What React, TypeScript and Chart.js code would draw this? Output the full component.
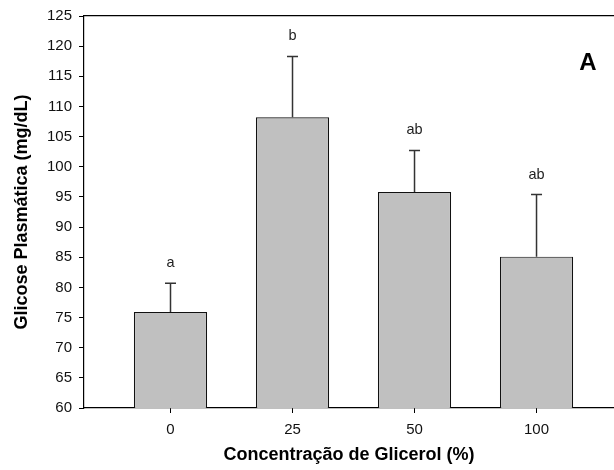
import React, { useEffect, useRef } from "react";
import { Chart, registerables } from "chart.js";

Chart.register(...registerables);

const categories = ["0", "25", "50", "100"];
const means = [75.9, 108.2, 95.8, 85.1];
const upperErrors = [80.7, 118.3, 102.7, 95.4];
const letters = ["a", "b", "ab", "ab"];
const yTicks = [60, 65, 70, 75, 80, 85, 90, 95, 100, 105, 110, 115, 120, 125];
const panelLabel = "A";
const yTitle = "Glicose Plasmática (mg/dL)";
const xTitle = "Concentração de Glicerol (%)";

const FONT = "'Liberation Sans', Arial, sans-serif";

const errorPlugin = {
  id: "errorBarsAndLabels",
  afterDatasetsDraw(chart: any) {
    const ctx = chart.ctx;
    const meta = chart.getDatasetMeta(0);
    const yScale = chart.scales.y;
    ctx.save();
    meta.data.forEach((el: any, i: number) => {
      const x = el.x;
      const yTop = el.y;
      const yCap = yScale.getPixelForValue(upperErrors[i]);
      ctx.strokeStyle = "#333";
      ctx.lineWidth = 1.5;
      ctx.beginPath();
      ctx.moveTo(x, yTop);
      ctx.lineTo(x, yCap);
      ctx.moveTo(x - 5.5, yCap);
      ctx.lineTo(x + 5.5, yCap);
      ctx.stroke();
      ctx.fillStyle = "#222";
      ctx.font = `14.5px ${FONT}`;
      ctx.textAlign = "center";
      ctx.textBaseline = "middle";
      ctx.fillText(letters[i], x, yCap - 20);
    });
    const area = chart.chartArea;
    ctx.fillStyle = "#000";
    ctx.font = `bold 24px ${FONT}`;
    ctx.textAlign = "center";
    ctx.textBaseline = "middle";
    ctx.fillText(panelLabel, area.right - 26, area.top + 47);
    ctx.restore();
  },
};

export default function App() {
  const canvasRef = useRef<HTMLCanvasElement | null>(null);

  useEffect(() => {
    if (!canvasRef.current) return;
    const xMin = -0.709;
    const xMax = 3.635;
    const chart = new Chart(canvasRef.current, {
      type: "bar",
      data: {
        datasets: [
          {
            data: means.map((v, i) => ({ x: i, y: v })),
            backgroundColor: "#C0C0C0",
            borderColor: "#111",
            borderWidth: 1.2,
            barPercentage: 0.6,
            categoryPercentage: 1,
          },
        ],
      },
      options: {
        responsive: false,
        animation: false,
        layout: { padding: { top: 15, right: 0, left: 0, bottom: 0 } },
        plugins: { legend: { display: false }, tooltip: { enabled: false } },
        scales: {
          x: {
            type: "linear",
            position: "bottom",
            min: xMin,
            max: xMax,
            offset: false,
            afterBuildTicks: (scale: any) => {
              scale.ticks = categories.map((_, i) => ({ value: i }));
            },
            afterFit: (scale: any) => {
              scale.height = 62;
            },
            ticks: {
              callback: (v: any) => categories[v] ?? "",
              color: "#111",
              font: { family: FONT, size: 15 },
              padding: 8,
              maxRotation: 0,
              autoSkip: false,
            },
            grid: {
              offset: false,
              drawOnChartArea: false,
              drawTicks: true,
              tickLength: 5,
              color: "#000",
            },
            border: { color: "#000", width: 1.2 },
            title: {
              display: true,
              text: xTitle,
              color: "#000",
              font: { family: FONT, size: 18, weight: "bold" },
              padding: { top: 0, bottom: 4 },
            },
          },
          x2: {
            type: "linear",
            position: "top",
            min: xMin,
            max: xMax,
            offset: false,
            afterFit: (scale: any) => {
              scale.height = 0;
            },
            ticks: { display: false },
            grid: { offset: false, drawOnChartArea: false, drawTicks: false },
            border: { color: "#000", width: 1.2 },
          },
          y: {
            min: 60,
            max: 125,
            afterBuildTicks: (scale: any) => {
              scale.ticks = yTicks.map((v) => ({ value: v }));
            },
            afterFit: (scale: any) => {
              scale.width = 84;
            },
            ticks: {
              color: "#111",
              font: { family: FONT, size: 15 },
              padding: 7,
            },
            grid: {
              drawOnChartArea: false,
              drawTicks: true,
              tickLength: 5,
              color: "#000",
            },
            border: { color: "#000", width: 1.2 },
            title: {
              display: true,
              text: yTitle,
              color: "#000",
              font: { family: FONT, size: 18, weight: "bold" },
              padding: { top: 11, bottom: 0 },
            },
          },
        },
      },
      plugins: [errorPlugin],
    } as any);
    return () => chart.destroy();
  }, []);

  return (
    <div style={{ position: "fixed", left: 0, top: 0, width: 614, height: 470, background: "#fff" }}>
      <canvas ref={canvasRef} width={614} height={470} style={{ display: "block" }} />
    </div>
  );
}
